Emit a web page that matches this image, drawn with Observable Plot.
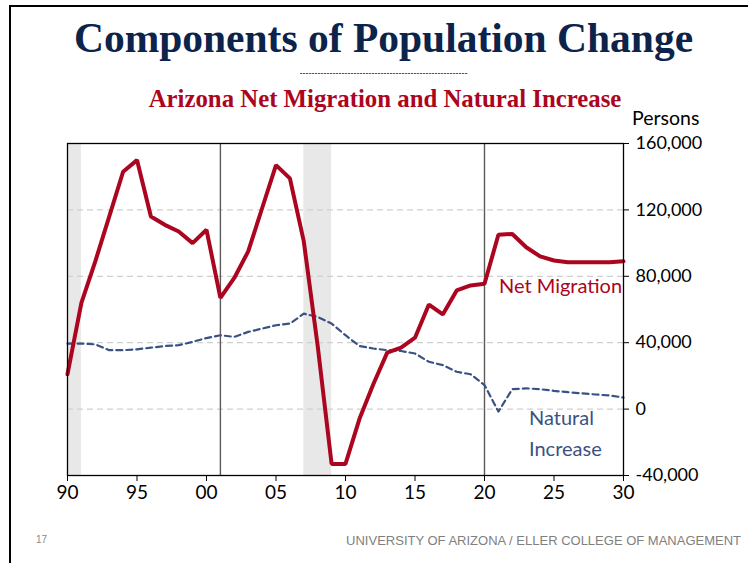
<!DOCTYPE html>
<html>
<head>
<meta charset="utf-8">
<script src="https://cdn.jsdelivr.net/npm/d3@7"></script>
<script src="https://cdn.jsdelivr.net/npm/@observablehq/plot@0.6"></script>
<style>
  html, body { margin: 0; padding: 0; background: #fff; }
  #page { position: relative; width: 748px; height: 563px; overflow: hidden; background: #fff; }
  .abs { position: absolute; white-space: nowrap; line-height: 1; }
  #border { position: absolute; left: 9px; top: 5px; right: -4px; bottom: -4px; border-left: 2px solid #000; border-top: 2px solid #000; }
  #title { left: 19px; width: 729px; top: 18px; text-align: center; font-family: "Liberation Serif", serif; font-weight: bold; font-size: 41.5px; color: #0C234B; }
  #rule { left: 300px; width: 168px; top: 73px; height: 1px; background: repeating-linear-gradient(to right, #D0203C 0px, #D0203C 2px, #F2B8C2 2px, #F2B8C2 3px); }
  #subtitle { left: 19px; width: 732px; top: 87px; text-align: center; font-family: "Liberation Serif", serif; font-weight: bold; font-size: 24.8px; color: #AB0520; }
  #persons { left: 632px; top: 108px; font-family: Lato, sans-serif; font-size: 19.5px; color: #000; }
  #chart { position: absolute; left: 0; top: 120px; }
  #pagenum { left: 36px; top: 535px; font-family: "Liberation Sans", sans-serif; font-size: 10px; color: #8a8a8a; }
  #footer { right: 7px; top: 534px; font-family: "Liberation Sans", sans-serif; font-size: 13px; color: #7f7f7f; }
</style>
</head>
<body>
<div id="page">
  <div id="border"></div>
  <div class="abs" id="title">Components of Population Change</div>
  <div class="abs" id="rule"></div>
  <div class="abs" id="subtitle">Arizona Net Migration and Natural Increase</div>
  <div class="abs" id="persons">Persons</div>
  <div id="chart"></div>
  <div class="abs" id="pagenum">17</div>
  <div class="abs" id="footer">UNIVERSITY OF ARIZONA / ELLER COLLEGE OF MANAGEMENT</div>
</div>
<script>
const years = [1990,1991,1992,1993,1994,1995,1996,1997,1998,1999,
               2000,2001,2002,2003,2004,2005,2006,2007,2008,2009,
               2010,2011,2012,2013,2014,2015,2016,2017,2018,2019,
               2020,2021,2022,2023,2024,2025,2026,2027,2028,2029,2030];

const netMigration = [21000,64000,89000,116000,143000,150000,116000,111000,107000,100000,
                      108000,67000,79000,95000,121000,147000,139000,101000,38000,-33000,
                      -33000,-6000,15000,34000,37000,43000,63000,57000,71500,74500,
                      75500,105000,105500,97500,92000,89500,88500,88500,88500,88500,89000];

const naturalIncrease = [39500,39500,39000,35500,35500,36000,37000,38000,38500,40500,
                         42800,44500,43500,46500,48500,50500,51500,57500,55500,51500,
                         44500,38000,36500,35500,35000,33500,28500,26500,22500,21000,
                         14500,-1500,12000,12500,12000,11000,10200,9500,8800,8200,7000];

const recessionStart = [1990, 2007];
const recessionEnd = [1991, 2009];
const markerYears = [2001, 2020];

const xTicks = [1990,1995,2000,2005,2010,2015,2020,2025,2030];
const yTicks = [-40000,0,40000,80000,120000,160000];
const gridValues = [0,40000,80000,120000];

const netLabel = {text: "Net Migration", x: 2029.9, y: 74000};
const natLabel = {text: "Natural\nIncrease", x: 2023.2, y: -13100};

const RED = "#AB0520";
const BLUE = "#3A5283";

const netData = years.map((y, i) => ({year: y, value: netMigration[i]}));
const natData = years.map((y, i) => ({year: y, value: naturalIncrease[i]}));
const recessions = recessionStart.map((s, i) => ({start: s, end: recessionEnd[i]}));

const fmtY = d => (d < 0 ? "-" : "") + d3.format(",")(Math.abs(d));
const fmtX = d => String(d % 100).padStart(2, "0");

const chart = Plot.plot({
  width: 748,
  height: 443,
  marginLeft: 67,
  marginRight: 125,
  marginTop: 23,
  marginBottom: 88,
  style: {fontFamily: "Lato, sans-serif", fontSize: "18px", color: "#000", background: "transparent", overflow: "visible"},
  x: {domain: [1990, 2030]},
  y: {domain: [-40000, 160000]},
  marks: [
    Plot.rect(recessions, {x1: "start", x2: "end", y1: -40000, y2: 160000, fill: "#e8e8e8"}),
    Plot.ruleY(gridValues, {stroke: "#cfcfcf", strokeWidth: 1.2, strokeDasharray: "6,4"}),
    Plot.ruleX(markerYears, {stroke: "#5a5a5a", strokeWidth: 1.4}),
    Plot.line(natData, {x: "year", y: "value", stroke: BLUE, strokeWidth: 2.2, strokeDasharray: "6,4"}),
    Plot.line(netData, {x: "year", y: "value", stroke: RED, strokeWidth: 4, strokeLinejoin: "miter"}),
    Plot.text([netLabel], {x: "x", y: "y", text: "text", fill: RED, textAnchor: "end", fontSize: 20}),
    Plot.text([natLabel], {x: "x", y: "y", text: "text", fill: BLUE, textAnchor: "start", fontSize: 20, lineHeight: 1.55}),
    Plot.frame({stroke: "#000", strokeWidth: 1.3}),
    Plot.axisY({anchor: "right", ticks: yTicks, tickFormat: fmtY, tickSize: 5, tickPadding: 7, label: null, stroke: "#000"}),
    Plot.axisX({anchor: "bottom", ticks: xTicks, tickFormat: fmtX, tickSize: 6, tickPadding: 4, label: null, stroke: "#000", fontSize: 19})
  ]
});
document.getElementById("chart").appendChild(chart);
</script>
</body>
</html>
